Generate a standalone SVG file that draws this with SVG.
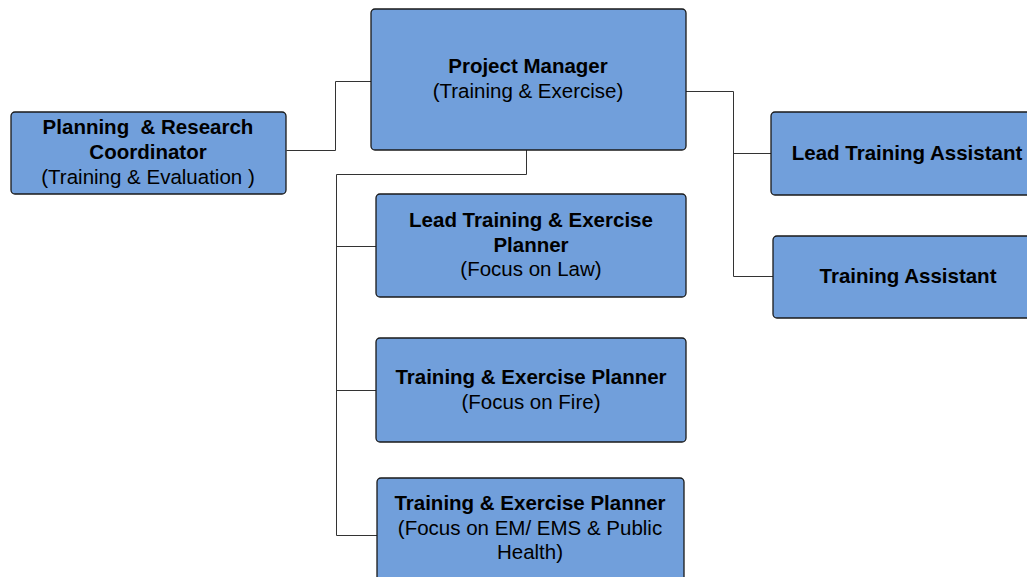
<svg xmlns="http://www.w3.org/2000/svg" width="1027" height="577" viewBox="0 0 1027 577">
<style>
.box{fill:#719fdb;stroke:#1a1a1a;stroke-width:1.3}
text{font-family:"Liberation Sans",Arial,sans-serif;font-size:20.5px;fill:#000;text-anchor:middle}
.b{font-weight:bold}
.conn{fill:none;stroke:#333;stroke-width:1}
</style>
<rect width="1027" height="577" fill="#fff"/>
<g id="connectors" class="conn">
<path d="M286.5 150.5H335.5V81.5H371"/>
<path d="M526.5 150V174.5H336.5V535.5H377"/>
<path d="M336.5 246.5H376"/>
<path d="M336.5 390.5H376"/>
<path d="M686 91.5H733.5V276.5H773"/>
<path d="M733.5 153.5H771"/>
</g>
<g id="planning">
<rect class="box" x="11" y="112" width="275" height="82" rx="4"/>
<text x="148" y="134" class="b" xml:space="preserve">Planning  &amp; Research</text>
<text x="148" y="159" class="b">Coordinator</text>
<text x="148" y="184">(Training &amp; Evaluation )</text>
</g>
<g id="pm">
<rect class="box" x="371" y="9" width="315" height="141" rx="4"/>
<text x="528" y="73" class="b">Project Manager</text>
<text x="528" y="98">(Training &amp; Exercise)</text>
</g>
<g id="lta">
<rect class="box" x="771" y="112" width="270" height="83" rx="4"/>
<text x="907" y="160" class="b">Lead Training Assistant</text>
</g>
<g id="ta">
<rect class="box" x="773" y="236" width="268" height="82" rx="4"/>
<text x="908" y="283" class="b">Training Assistant</text>
</g>
<g id="ltep">
<rect class="box" x="376" y="194" width="310" height="103" rx="4"/>
<text x="531" y="227" class="b">Lead Training &amp; Exercise</text>
<text x="531" y="252" class="b">Planner</text>
<text x="531" y="276">(Focus on Law)</text>
</g>
<g id="tep-fire">
<rect class="box" x="376" y="338" width="310" height="104" rx="4"/>
<text x="531" y="384" class="b">Training &amp; Exercise Planner</text>
<text x="531" y="409">(Focus on Fire)</text>
</g>
<g id="tep-em">
<rect class="box" x="377" y="478" width="307" height="110" rx="4"/>
<text x="530" y="510" class="b">Training &amp; Exercise Planner</text>
<text x="530" y="535">(Focus on EM/ EMS &amp; Public</text>
<text x="530" y="559">Health)</text>
</g>
</svg>
